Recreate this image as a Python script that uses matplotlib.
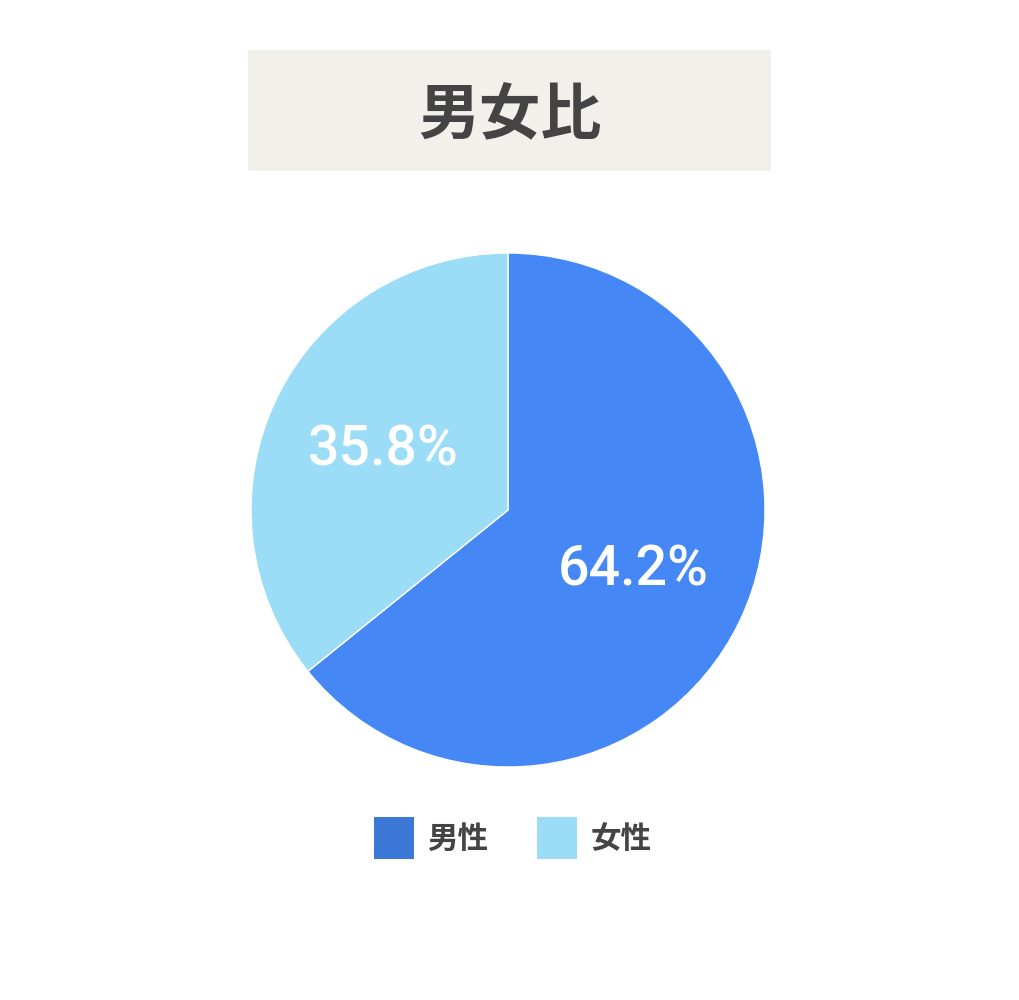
import matplotlib.pyplot as plt
from matplotlib.patches import Patch, Rectangle

# --- Data ---
TITLE = "男女比"
labels = ["男性", "女性"]
shares = [64.2, 35.8]
pie_colors = ["#4487F5", "#9BDDF7"]
legend_colors = ["#3B78D8", "#9BDDF7"]

TEXT_COLOR = "#444444"
BOX_COLOR = "#F2F0EB"

plt.rcParams["font.family"] = ["Noto Sans CJK JP", "DejaVu Sans"]

fig = plt.figure(figsize=(10.2, 10.0), dpi=100)
fig.patch.set_facecolor("white")

# --- Title box ---
fig.patches.append(Rectangle((248 / 1020, 1 - 171 / 1000), 523 / 1020, 121 / 1000,
                             transform=fig.transFigure, facecolor=BOX_COLOR,
                             edgecolor="none", zorder=0))
fig.text(510 / 1020, 1 - 116 / 1000, TITLE, ha="center", va="center",
         fontsize=44, fontweight="bold", color=TEXT_COLOR)

# --- Pie ---
ax = fig.add_axes([251 / 1020, 1 - 767 / 1000, 514 / 1020, 514 / 1000])
wedges, _, autotexts = ax.pie(
    shares, colors=pie_colors, startangle=90, counterclock=False,
    autopct=lambda p: f"{p:.1f}%", pctdistance=0.54,
    wedgeprops=dict(edgecolor="white", linewidth=1),
)
for t in autotexts:
    t.set_color("white")
    t.set_fontsize(40)
    t.set_fontfamily(["Roboto", "DejaVu Sans"])
    t.set_fontweight("medium")
ax.set_xlim(-1, 1)
ax.set_ylim(-1, 1)
ax.axis("off")

# --- Legend ---
handles = [Patch(facecolor=c, edgecolor="none") for c in legend_colors]
leg = fig.legend(handles, labels, loc="center", bbox_to_anchor=(513 / 1020, 1 - 838 / 1000),
                 ncol=2, frameon=False, fontsize=22, handlelength=1.3, handleheight=1.7,
                 handletextpad=0.45, columnspacing=1.6)
for t in leg.get_texts():
    t.set_color(TEXT_COLOR)
    t.set_fontweight("bold")

fig.savefig("out.png", dpi=100)
